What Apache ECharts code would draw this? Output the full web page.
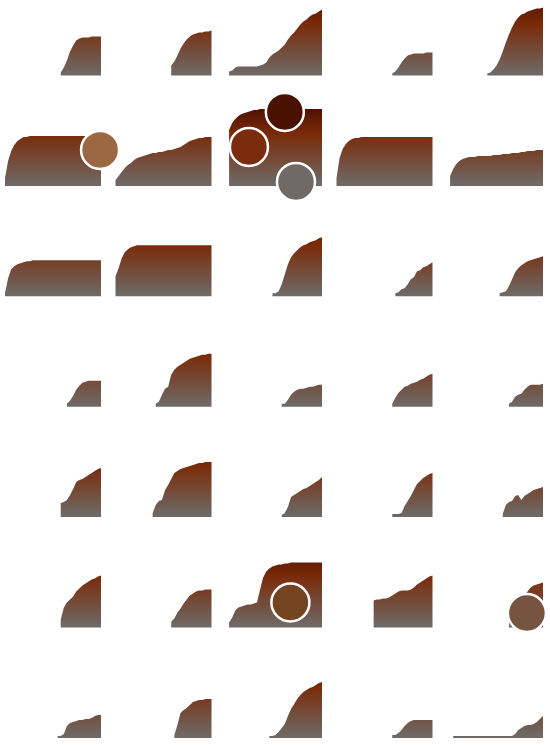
<!DOCTYPE html>
<html lang="en">
<head>
<meta charset="UTF-8">
<title>area grid</title>
<style>html,body{margin:0;padding:0;background:#fff;}</style>
</head>
<body>
<div id="main" style="width:550px;height:745px;"></div>
<script src="https://cdn.jsdelivr.net/npm/echarts@6/dist/echarts.min.js"></script>
<script>
// first step index of every cell, row by row
var starts = [
    [18, 18, 1, 18, 13],
    [0, 0, 1, 0, 1],
    [0, 0, 15, 19, 17],
    [20, 13, 18, 18, 20],
    [18, 12, 18, 18, 18],
    [18, 18, 1, 12, 20],
    [17, 19, 14, 18, 2]
];

var row1 = [
    [3,8,15,24,30,35,37,38,38,38,39,39,39,39],
    [10,14,20,27,32,36,39,41,42,43,43,44,44,45],
    [4,5,8,9,9,9,9,9,9,9,10,11,13,18,21,23,25,28,31,36,40,43,47,51,54,56,59,61,62,64,66],
    [2,4,8,13,17,20,21,22,22,22,22,23,23,23],
    [2,3,6,10,16,24,33,41,48,54,58,61,62,64,65,66,67,67,68]
];
var row2 = [
    [8,25,35,41,45,47,49,49,50,50,50,50,50,50,50,50,50,50,50,50,50,50,50,50,50,50,50,50,50,50,50,50],
    [6,10,14,18,21,23,26,28,29,30,31,32,33,33,34,34,35,36,36,37,38,39,41,43,45,46,47,48,48,49,49,49],
    [56,63,67,70,72,73,74,75,76,76,77,77,77,77,77,77,77,77,77,77,77,77,77,77,77,77,77,77,77,77,77],
    [8,28,37,42,45,47,48,48,49,49,49,49,49,49,49,49,49,49,49,49,49,49,49,49,49,49,49,49,49,49,49,49],
    [10,17,22,25,27,28,29,29,29,30,30,30,30,30,31,31,31,32,32,32,33,33,33,34,34,35,35,35,36,36,36]
];
var row3 = [
    [3,18,27,30,32,33,34,35,35,36,36,36,36,36,36,36,36,36,36,36,36,36,36,36,36,36,36,36,36,36,36,36],
    [20,28,38,44,47,49,50,51,51,51,51,51,51,51,51,51,51,51,51,51,51,51,51,51,51,51,51,51,51,51,51,51],
    [3,3,5,12,22,32,39,43,46,49,51,52,54,55,56,58,59],
    [3,4,7,8,12,17,19,25,26,29,30,32,34],
    [3,4,5,10,17,24,28,31,33,35,36,37,38,39,40]
];
var row4 = [
    [3,6,11,17,21,24,25,26,26,26,26,26],
    [3,5,12,18,20,32,37,40,42,44,46,48,49,50,51,52,52,53,53],
    [3,3,7,12,15,17,18,18,19,20,20,21,22,22],
    [3,9,14,17,20,21,23,24,25,27,28,30,32,33],
    [3,5,10,12,13,17,20,22,22,22,22,23]
];
var row5 = [
    [14,15,17,22,28,35,37,38,40,42,44,46,48,49],
    [4,12,16,17,27,32,38,44,46,48,49,50,51,52,53,54,54,55,55,55],
    [2,4,10,20,22,24,26,28,29,31,33,35,37,40],
    [3,3,3,4,11,16,21,27,33,36,39,41,43,44],
    [3,12,15,16,21,22,17,21,23,25,27,28,29,30]
];
var row6 = [
    [8,20,25,28,31,36,39,42,44,46,48,49,51,52],
    [6,9,15,19,24,28,32,34,36,37,37,38,38,38],
    [5,10,17,20,21,22,23,23,24,25,38,50,56,59,61,62,63,63,64,64,65,65,65,65,65,65,65,65,65,65,65],
    [27,28,28,29,29,30,32,34,36,37,37,37,38,40,43,45,47,49,51,52],
    [5,12,18,24,28,32,36,40,42,43,44,45]
];
var row7 = [
    [2,2,4,12,15,16,17,18,18,19,19,20,22,23,23],
    [3,13,25,28,30,33,36,37,38,38,39,39,39],
    [2,2,3,6,10,14,22,29,34,39,43,46,48,50,51,53,55,56],
    [3,3,5,8,12,15,17,18,18,18,18,18,18,18],
    [2,2,2,2,2,2,2,2,2,2,2,2,2,2,2,2,2,2,2,2,4,8,10,12,13,13,14,16,19,22]
];

// bubbles: [row, col, step, value]
var dots = [
    [1, 0, 30.7, 36],
    [1, 2, 19.0, 74],
    [1, 2, 7.4, 39],
    [1, 2, 22.6, 4],
    [5, 2, 20.8, 25],
    [5, 4, 25.8, 14.5]
];
var dotColors = ['#9c6844', '#4a1000', '#7a2c0c', '#706a66', '#744420', '#765440'];

var chart = echarts.init(document.getElementById('main'));

var rows = [row1, row2, row3, row4, row5, row6, row7];
var cellLeft = 5, cellStep = 110.5, cellW = 96, cellH = 70;
var rowBase = 75.5, rowStep = 110.4;

var grids = [], xAxes = [], yAxes = [], series = [];

rows.forEach(function (row, r) {
    var bottom = rowBase + rowStep * r;
    var fill = new echarts.graphic.LinearGradient(0, bottom - 80, 0, bottom, [
        {offset: 0, color: '#4a0e02'},
        {offset: 0.35, color: '#7a2a08'},
        {offset: 1, color: '#6e6b69'}
    ], true);
    row.forEach(function (vals, c) {
        var i = grids.length;
        grids.push({left: cellLeft + cellStep * c, top: bottom - cellH, width: cellW, height: cellH});
        xAxes.push({type: 'value', gridIndex: i, min: 0, max: 31, show: false});
        yAxes.push({type: 'value', gridIndex: i, min: 0, max: 70, show: false});
        var s = starts[r][c];
        series.push({
            type: 'line',
            xAxisIndex: i,
            yAxisIndex: i,
            data: vals.map(function (v, k) { return [s + k, v]; }),
            symbol: 'none',
            lineStyle: {width: 0},
            areaStyle: {color: fill, opacity: 1},
            clip: false,
            silent: true
        });
    });
});

dots.forEach(function (d, k) {
    var i = d[0] * 5 + d[1];
    series.push({
        type: 'scatter',
        xAxisIndex: i,
        yAxisIndex: i,
        data: [[d[2], d[3]]],
        symbolSize: 38,
        itemStyle: {color: dotColors[k], borderColor: '#fff', borderWidth: 2.5, opacity: 1},
        clip: false,
        z: 10
    });
});

chart.setOption({
    animation: false,
    grid: grids,
    xAxis: xAxes,
    yAxis: yAxes,
    series: series
});
</script>
</body>
</html>
